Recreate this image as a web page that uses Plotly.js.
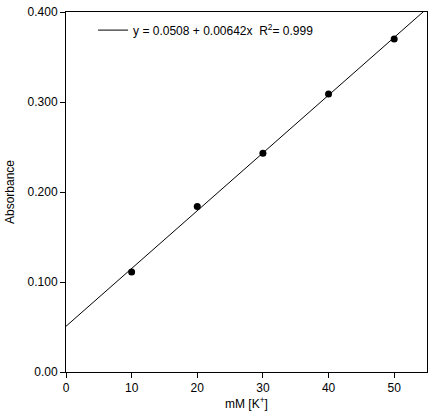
<!DOCTYPE html>
<html><head><meta charset="utf-8">
<script src="https://cdn.plot.ly/plotly-3.0.1.min.js"></script>
<style>html,body{margin:0;padding:0;background:#fff}#c{width:431px;height:418px}</style>
</head><body><div id="c"></div>
<script>
const conc = [10, 20, 30, 40, 50];
const absorbance = [0.111, 0.184, 0.243, 0.309, 0.370];
const intercept = 0.0508;
const slope = 0.00642;
const r2 = 0.999;
const fitRange = [0, 55];
const yTickVals = [0, 0.1, 0.2, 0.3, 0.4];
const yTickText = ['0.00', '0.100', '0.200', '0.300', '0.400'];
const xTickVals = [0, 10, 20, 30, 40, 50];

const font = {family: 'Liberation Sans, Arial, sans-serif', size: 12, color: '#000'};
const fitY = fitRange.map(x => intercept + slope * x);

const traces = [
  {x: fitRange, y: fitY, mode: 'lines', line: {color: '#000', width: 1},
   name: 'y = ' + intercept + ' + ' + slope + 'x  R<sup>2</sup>= ' + r2, showlegend: true,
   cliponaxis: true, hoverinfo: 'skip'},
  {x: conc, y: absorbance, mode: 'markers', marker: {color: '#000', size: 7},
   showlegend: false}
];
const axisCommon = {showline: true, mirror: true, linecolor: '#000', linewidth: 1,
  ticks: 'outside', ticklen: 5, tickcolor: '#000', showgrid: false, zeroline: false,
  tickfont: font};
const layout = {
  width: 431, height: 418,
  margin: {l: 66, r: 4, t: 12, b: 46},
  paper_bgcolor: '#fff', plot_bgcolor: '#fff',
  font: font,
  xaxis: Object.assign({}, axisCommon, {range: [0, 55], tickvals: xTickVals,
    title: {text: 'mM [K<sup>+</sup>]', font: font, standoff: 4}}),
  yaxis: Object.assign({}, axisCommon, {range: [0, 0.4], tickvals: yTickVals, ticktext: yTickText,
    title: {text: 'Absorbance', font: font, standoff: 10}}),
  showlegend: true,
  legend: {x: 0.075, y: 0.99, xanchor: 'left', yanchor: 'top', bgcolor: 'rgba(0,0,0,0)',
    font: font, itemwidth: 30, borderwidth: 0}
};
Plotly.newPlot('c', traces, layout, {staticPlot: true, displayModeBar: false});
</script></body></html>
